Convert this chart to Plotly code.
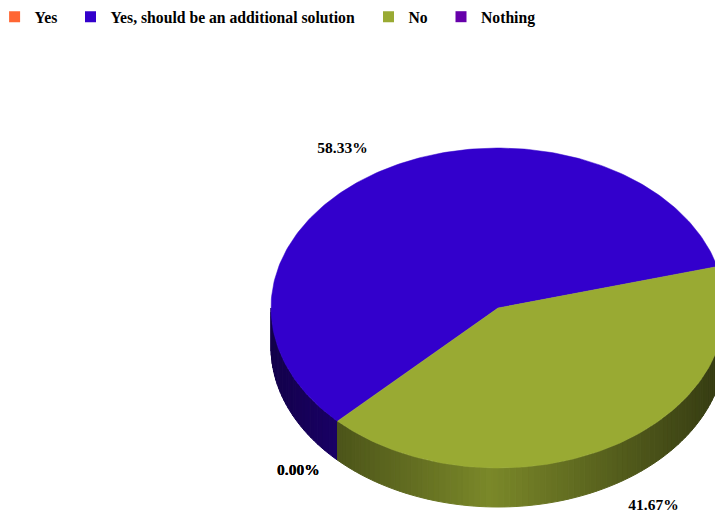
import math
import plotly.graph_objects as go

# ---- data ----
categories = ["Yes", "Yes, should be an additional solution", "No", "Nothing"]
values = [0.0, 58.33, 41.67, 0.0]
colors = ["#ff6633", "#3300cc", "#99aa33", "#6600aa"]

# ---- geometry / style (pixel space) ----
W, H = 715, 516
CX, CY = 498, 308
RX, RY = 227, 160
DEPTH = 39
START = 135.0  # degrees, y-down screen coords, clockwise
FONT = "Liberation Serif"
LEGEND_SQUARES = [18.6, 94.5, 392.5, 465.0]  # px centre of each legend key


def hex_to_rgb(h):
    h = h.lstrip("#")
    return tuple(int(h[i:i + 2], 16) for i in (0, 2, 4))


def shade(hexcol, f):
    r, g, b = hex_to_rgb(hexcol)
    return "rgb(%d,%d,%d)" % (round(r * f), round(g * f), round(b * f))


def ept(a_deg, dy=0.0):
    a = math.radians(a_deg)
    return CX + RX * math.cos(a), CY + RY * math.sin(a) + dy


total = sum(values)
spans = []
a0 = START
for v in values:
    a1 = a0 + 360.0 * v / total
    spans.append((a0, a1))
    a0 = a1

fig = go.Figure()

# side walls (only front half 0..180 deg visible)
for (a0, a1), col in zip(spans, colors):
    if a1 - a0 <= 0:
        continue
    for base in (-360, 0, 360):
        s = max(a0 + base, 0.0)
        e = min(a1 + base, 180.0)
        if e <= s:
            continue
        n = max(1, int((e - s) / 1.5))
        for k in range(n):
            t0 = s + (e - s) * k / n
            t1 = s + (e - s) * (k + 1) / n
            tm = (t0 + t1) / 2
            c = math.cos(math.radians(tm))
            f = 0.35 + 0.45 * max(0.0, 1 - abs(c + 0.035))
            p0 = ept(t0)
            p1 = ept(t1)
            q1 = ept(t1, DEPTH)
            q0 = ept(t0, DEPTH)
            xs = [p0[0], p1[0], q1[0], q0[0], p0[0]]
            ys = [p0[1], p1[1], q1[1], q0[1], p0[1]]
            sc = shade(col, f)
            fig.add_trace(go.Scatter(x=xs, y=ys, mode="lines", fill="toself",
                                     fillcolor=sc, line=dict(color=sc, width=1),
                                     showlegend=False, hoverinfo="skip"))

# top faces
for (a0, a1), col in zip(spans, colors):
    if a1 - a0 <= 0:
        continue
    n = max(2, int((a1 - a0) / 1.0))
    xs = [CX]
    ys = [CY]
    for k in range(n + 1):
        p = ept(a0 + (a1 - a0) * k / n)
        xs.append(p[0])
        ys.append(p[1])
    xs.append(CX)
    ys.append(CY)
    fig.add_trace(go.Scatter(x=xs, y=ys, mode="lines", fill="toself",
                             fillcolor=col, line=dict(color=col, width=0.5),
                             showlegend=False, hoverinfo="skip"))

# percentage labels
lx, ly, lt = [], [], []
for (a0, a1), v in zip(spans, values):
    am = (a0 + a1) / 2
    a = math.radians(am)
    c, s = math.cos(a), math.sin(a)
    x = CX + 1.15 * RX * c + (25 if c > 0 else -25)
    y = CY + 1.15 * RY * s + (DEPTH if s > 0 else 0)
    if s > 0:
        y = min(y, H - 8)
        if c < 0:
            y -= 6
            x += 10
    lx.append(x)
    ly.append(y)
    lt.append("%.2f%%" % (100.0 * v / total))
fig.add_trace(go.Scatter(x=lx, y=ly, mode="text", text=lt,
                         textfont=dict(family=FONT, size=15.5, color="black", weight="bold"),
                         showlegend=False, hoverinfo="skip"))

# legend entries, one legend box each so that spacing matches
legend_layout = {}
for i, (name, col) in enumerate(zip(categories, colors)):
    key = "legend" if i == 0 else "legend%d" % (i + 1)
    fig.add_trace(go.Scatter(x=[None], y=[None], mode="markers", name=name,
                             legend=key,
                             marker=dict(symbol="square", size=11, color=col)))
    lx0 = (LEGEND_SQUARES[i] - 5.5 - 18.5) / W
    legend_layout[key] = dict(
        orientation="h", x=lx0, y=1, xanchor="left", yanchor="top",
        font=dict(family=FONT, size=15.7, color="black", weight="bold"),
        bgcolor="rgba(0,0,0,0)")

fig.update_layout(
    width=W, height=H,
    margin=dict(l=0, r=0, t=0, b=0, autoexpand=False),
    paper_bgcolor="white", plot_bgcolor="white",
    xaxis=dict(range=[0, W], visible=False, fixedrange=True),
    yaxis=dict(range=[H, 0], visible=False, fixedrange=True),
    showlegend=True,
    **legend_layout,
)

fig.write_html("out.html", config={"displayModeBar": False},
               post_script="document.body.style.margin='0';document.body.style.overflow='hidden';")
